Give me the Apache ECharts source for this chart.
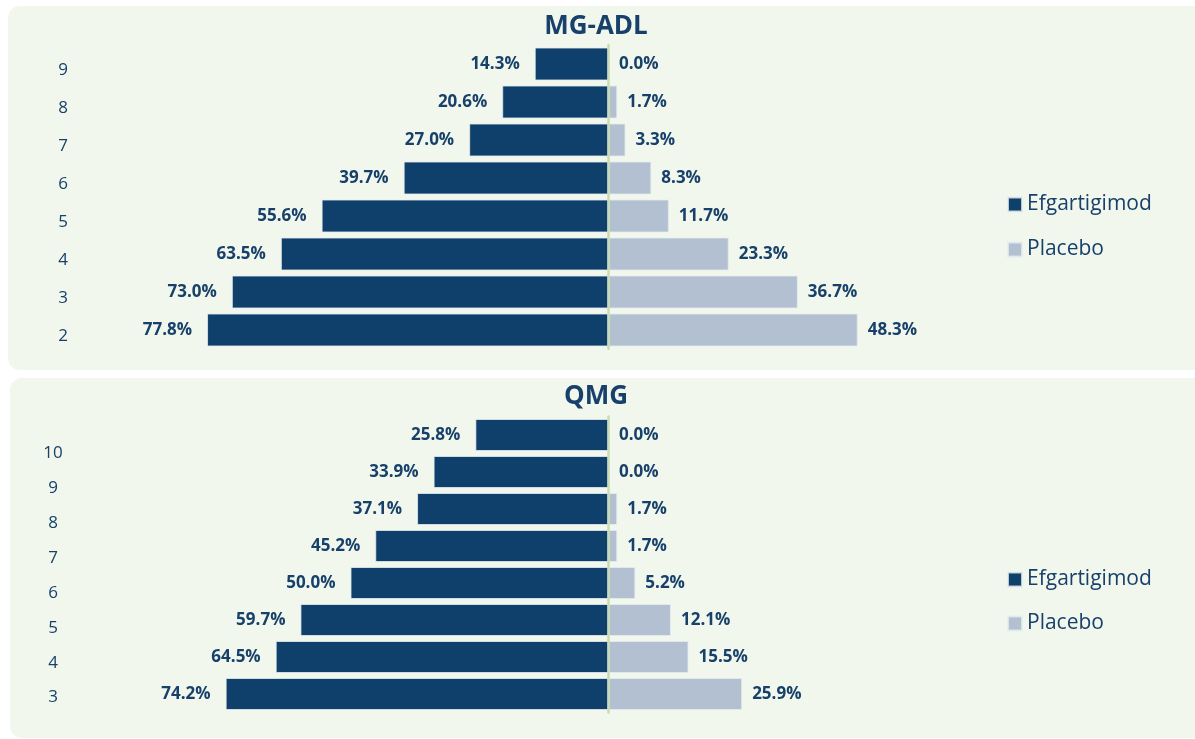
<!DOCTYPE html>
<html>
<head>
<meta charset="utf-8">
<script src="https://cdn.jsdelivr.net/npm/echarts@6/dist/echarts.min.js"></script>
<style>
html,body{margin:0;padding:0;background:#ffffff;}
#chart{width:1195px;height:739px;}
</style>
</head>
<body>
<div id="chart"></div>
<script>
const seriesNames = ['Efgartigimod', 'Placebo'];
const adlCategories = ['2', '3', '4', '5', '6', '7', '8', '9'];
const adlEfg = [77.8, 73.0, 63.5, 55.6, 39.7, 27.0, 20.6, 14.3];
const adlPlacebo = [48.3, 36.7, 23.3, 11.7, 8.3, 3.3, 1.7, 0.0];
const qmgCategories = ['3', '4', '5', '6', '7', '8', '9', '10'];
const qmgEfg = [74.2, 64.5, 59.7, 50.0, 45.2, 37.1, 33.9, 25.8];
const qmgPlacebo = [25.9, 15.5, 12.1, 5.2, 1.7, 1.7, 0.0, 0.0];
const titles = ['MG-ADL', 'QMG'];

const C_EFG = '#0e406b';
const C_PLA = '#b2c0d1';
const C_TXT = '#17406a';
const FONT = '"Open Sans", "Noto Sans", sans-serif';

const chart = echarts.init(document.getElementById('chart'), null, {renderer: 'canvas'});

function pct(v) { return Math.abs(v).toFixed(1) + '%'; }

function barSeries(name, data, xi, yi, w, pos, dist, color) {
  return {
    name: name, type: 'bar', xAxisIndex: xi, yAxisIndex: yi,
    data: data, barWidth: w, barGap: '-100%',
    itemStyle: {color: color, borderColor: 'rgba(230,236,240,0.8)', borderWidth: 1},
    label: {show: true, position: pos, distance: dist, formatter: p => pct(p.value),
            fontFamily: FONT, fontSize: 17, fontWeight: 'bold', color: C_TXT}
  };
}

const option = {
  backgroundColor: '#ffffff',
  animation: false,
  textStyle: {fontFamily: FONT},
  graphic: [
    {type: 'rect', z: -10, shape: {x: 8, y: 6, width: 1200, height: 364, r: 12}, style: {fill: '#f1f7ec'}},
    {type: 'rect', z: -10, shape: {x: 10, y: 378, width: 1200, height: 360, r: 12}, style: {fill: '#f1f7ec'}}
  ],
  title: [
    {text: titles[0], left: 591, top: 9, textAlign: 'center',
     textStyle: {fontFamily: FONT, fontSize: 26, fontWeight: 'bold', color: C_TXT}},
    {text: titles[1], left: 591, top: 379, textAlign: 'center',
     textStyle: {fontFamily: FONT, fontSize: 26, fontWeight: 'bold', color: C_TXT}}
  ],
  legend: [
    {orient: 'vertical', left: 1007, top: 194, padding: 0, itemWidth: 14, itemHeight: 14, itemGap: 24,
     icon: 'rect', data: seriesNames, selectedMode: false,
     textStyle: {fontFamily: FONT, fontSize: 21, color: C_TXT}},
    {orient: 'vertical', left: 1007, top: 569, padding: 0, itemWidth: 14, itemHeight: 14, itemGap: 23,
     icon: 'rect', data: seriesNames, selectedMode: false,
     textStyle: {fontFamily: FONT, fontSize: 21, color: C_TXT}}
  ],
  grid: [
    {left: 92.5, width: 1032, top: 45, height: 304},
    {left: 63, width: 10, top: 51, height: 304},
    {left: 92.5, width: 1032, top: 416.5, height: 296},
    {left: 53, width: 10, top: 436, height: 279}
  ],
  xAxis: [
    {gridIndex: 0, type: 'value', min: -100, max: 100, show: false},
    {gridIndex: 1, type: 'value', min: 0, max: 1, show: false},
    {gridIndex: 2, type: 'value', min: -100, max: 100, show: false},
    {gridIndex: 3, type: 'value', min: 0, max: 1, show: false}
  ],
  yAxis: [
    {gridIndex: 0, type: 'category', data: adlCategories, z: 5,
     axisLine: {show: true, onZero: true, lineStyle: {color: '#c8dcb4', width: 2.5}},
     axisTick: {show: false}, axisLabel: {show: false}, splitLine: {show: false}},
    {gridIndex: 1, type: 'category', data: adlCategories,
     axisLine: {show: false}, axisTick: {show: false}, splitLine: {show: false},
     axisLabel: {margin: 0, align: 'center', fontFamily: FONT, fontSize: 17, color: C_TXT}},
    {gridIndex: 2, type: 'category', data: qmgCategories, z: 5,
     axisLine: {show: true, onZero: true, lineStyle: {color: '#c8dcb4', width: 2.5}},
     axisTick: {show: false}, axisLabel: {show: false}, splitLine: {show: false}},
    {gridIndex: 3, type: 'category', data: qmgCategories,
     axisLine: {show: false}, axisTick: {show: false}, splitLine: {show: false},
     axisLabel: {margin: 0, align: 'center', fontFamily: FONT, fontSize: 17, color: C_TXT}}
  ],
  series: [
    barSeries(seriesNames[0], adlEfg.map(v => -v), 0, 0, 33, 'left', 15, C_EFG),
    barSeries(seriesNames[1], adlPlacebo, 0, 0, 33, 'right', 10, C_PLA),
    barSeries(seriesNames[0], qmgEfg.map(v => -v), 2, 2, 32, 'left', 15, C_EFG),
    barSeries(seriesNames[1], qmgPlacebo, 2, 2, 32, 'right', 10, C_PLA)
  ]
};
chart.setOption(option);
</script>
</body>
</html>
